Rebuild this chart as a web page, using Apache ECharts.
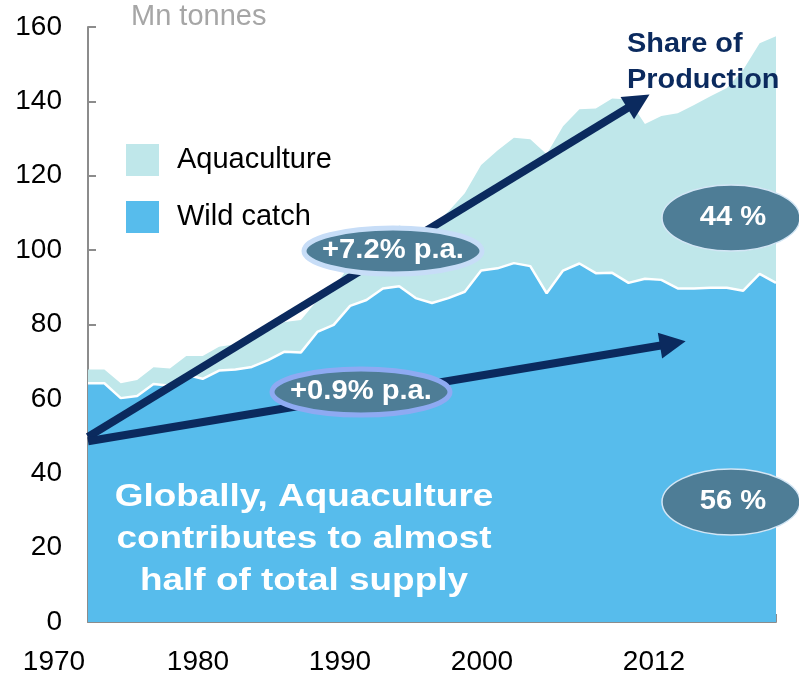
<!DOCTYPE html>
<html><head><meta charset="utf-8">
<script src="https://cdn.jsdelivr.net/npm/echarts@6/dist/echarts.min.js"></script>
<style>html,body{margin:0;padding:0;background:#fff}#c{width:799px;height:676px}</style>
</head><body><div id="c"></div>
<script>
// ---- data ----
const years = ['1970','1971','1972','1973','1974','1975','1976','1977','1978','1979',
  '1980','1981','1982','1983','1984','1985','1986','1987','1988','1989',
  '1990','1991','1992','1993','1994','1995','1996','1997','1998','1999',
  '2000','2001','2002','2003','2004','2005','2006','2007','2008','2009',
  '2010','2011','2012'];
const wildCatch = [64.2,64.2,60.2,60.8,64.0,63.5,66.5,65.4,67.6,67.9,
  68.6,70.4,72.7,72.5,78.0,79.9,85.0,86.6,89.7,90.3,
  87.1,85.8,87.1,88.8,94.5,95.1,96.5,95.7,88.4,94.5,
  96.4,93.8,93.9,91.2,92.3,92.0,89.7,89.7,89.9,89.9,
  89.1,93.6,91.2];
const aquaculture = [3.7,3.7,4.0,4.3,4.5,4.7,5.0,6.1,6.4,6.8,
  7.2,7.8,8.0,8.7,8.5,9.8,11.2,12.8,14.5,16.3,
  18.3,20.5,23.3,26.5,28.4,31.7,33.7,34.1,37.4,38.8,
  41.5,44.3,46.9,49.3,41.6,44.1,47.1,49.3,51.5,53.7,
  59.4,62.0,66.3];
const xTickLabels = ['1970','1980','1990','2000','2012'];
const seriesNames = ['Wild catch','Aquaculture'];
// trend arrows, in [category index, Mn tonnes]
const arrowAqua = [[0,49.8],[33.6,140.0]];
const arrowWild = [[0,48.6],[35.7,74.9]];
const growthLabels = ['+7.2% p.a.','+0.9% p.a.'];
const shareLabels = ['44 %','56 %'];

// ---- layout / style ----
const xTickLabelX = [54,198,340,482,654];
const NAVY = '#0B2A5E';
const ELL = '#4E7D96';
const FONT = 'Liberation Sans, Arial, sans-serif';

const chart = echarts.init(document.getElementById('c'));

const graphics = [];
xTickLabels.forEach((t,i)=>graphics.push({type:'text',x:xTickLabelX[i],y:662,z:100,
  style:{text:t,fill:'#000',font:'28px '+FONT,textAlign:'center',textVerticalAlign:'middle'}}));
graphics.push({type:'text',x:131,y:17,z:100,style:{text:'Mn tonnes',fill:'#A6A6A6',font:'29px '+FONT,textVerticalAlign:'middle'}});
graphics.push({type:'text',x:627,y:27,z:100,scaleX:1.07,style:{text:'Share of\nProduction',fill:NAVY,font:'bold 27px '+FONT,lineHeight:36}});
graphics.push({type:'text',x:304,y:539,z:100,scaleX:1.19,style:{text:'Globally, Aquaculture\ncontributes to almost\nhalf of total supply',fill:'#fff',font:'bold 31px '+FONT,lineHeight:42,textAlign:'center',textVerticalAlign:'middle'}});
// growth ellipses
const growthEll = [{cx:393,cy:251,stroke:'#C7DDF7'},{cx:361,cy:392,stroke:'#8EAAF2'}];
growthEll.forEach((e,i)=>{
  graphics.push({type:'ellipse',z:110,shape:{cx:e.cx,cy:e.cy,rx:89,ry:23},style:{fill:ELL,stroke:e.stroke,lineWidth:5}});
  graphics.push({type:'text',x:e.cx,y:e.cy,z:111,scaleX:1.08,style:{text:growthLabels[i],fill:'#fff',font:'bold 27px '+FONT,textAlign:'center',textVerticalAlign:'middle'}});
});
const shareEll = [{cx:731,cy:218},{cx:731,cy:502}];
shareEll.forEach((e,i)=>{
  graphics.push({type:'ellipse',z:110,shape:{cx:e.cx,cy:e.cy,rx:69,ry:33},style:{fill:ELL,stroke:'#D3E6F5',lineWidth:1.5}});
  graphics.push({type:'text',x:e.cx+2,y:e.cy,z:111,scaleX:1.08,style:{text:shareLabels[i],fill:'#fff',font:'bold 27px '+FONT,textAlign:'center',textVerticalAlign:'middle'}});
});

chart.setOption({
  animation:false,
  textStyle:{fontFamily:FONT},
  grid:{left:88,right:23,top:27,bottom:54},
  legend:{orient:'vertical',left:121,top:139,itemWidth:33,itemHeight:32,itemGap:25,icon:'rect',
    data:['Aquaculture','Wild catch'],
    itemStyle:{borderWidth:0},
    textStyle:{fontSize:29,color:'#000',fontFamily:FONT,padding:[0,0,0,13]}},
  xAxis:[{type:'category',data:years,boundaryGap:false,
    axisLine:{lineStyle:{color:'#8C8C8C',width:2}},
    axisTick:{inside:true,length:8,interval:0,lineStyle:{color:'#8C8C8C',width:2}},
    axisLabel:{show:false},splitLine:{show:false}},
    {type:'value',min:0,max:42,show:false}],
  yAxis:{type:'value',min:0,max:160,interval:20,
    axisLine:{show:true,lineStyle:{color:'#8C8C8C',width:2}},
    axisTick:{show:true,inside:true,length:8,lineStyle:{color:'#8C8C8C',width:2}},
    axisLabel:{fontSize:28,color:'#000',margin:26,fontFamily:FONT},
    splitLine:{show:false}},
  graphic:graphics,
  series:[
    {name:seriesNames[0],type:'line',stack:'total',data:wildCatch,symbol:'none',z:3,
      itemStyle:{color:'#57BCEC'},lineStyle:{color:'#fff',width:2.5},
      areaStyle:{color:'#57BCEC',opacity:1}},
    {name:seriesNames[1],type:'line',stack:'total',data:aquaculture,symbol:'none',z:2,
      itemStyle:{color:'#BFE7EA'},lineStyle:{width:0},
      areaStyle:{color:'#BFE7EA',opacity:1}},
    {type:'lines',coordinateSystem:'cartesian2d',xAxisIndex:1,yAxisIndex:0,z:5,
      symbol:['none','triangle'],symbolSize:26,silent:true,
      lineStyle:{color:NAVY,width:8,opacity:1,curveness:0},
      data:[{coords:arrowAqua},{coords:arrowWild}]}
  ]
});
</script></body></html>
